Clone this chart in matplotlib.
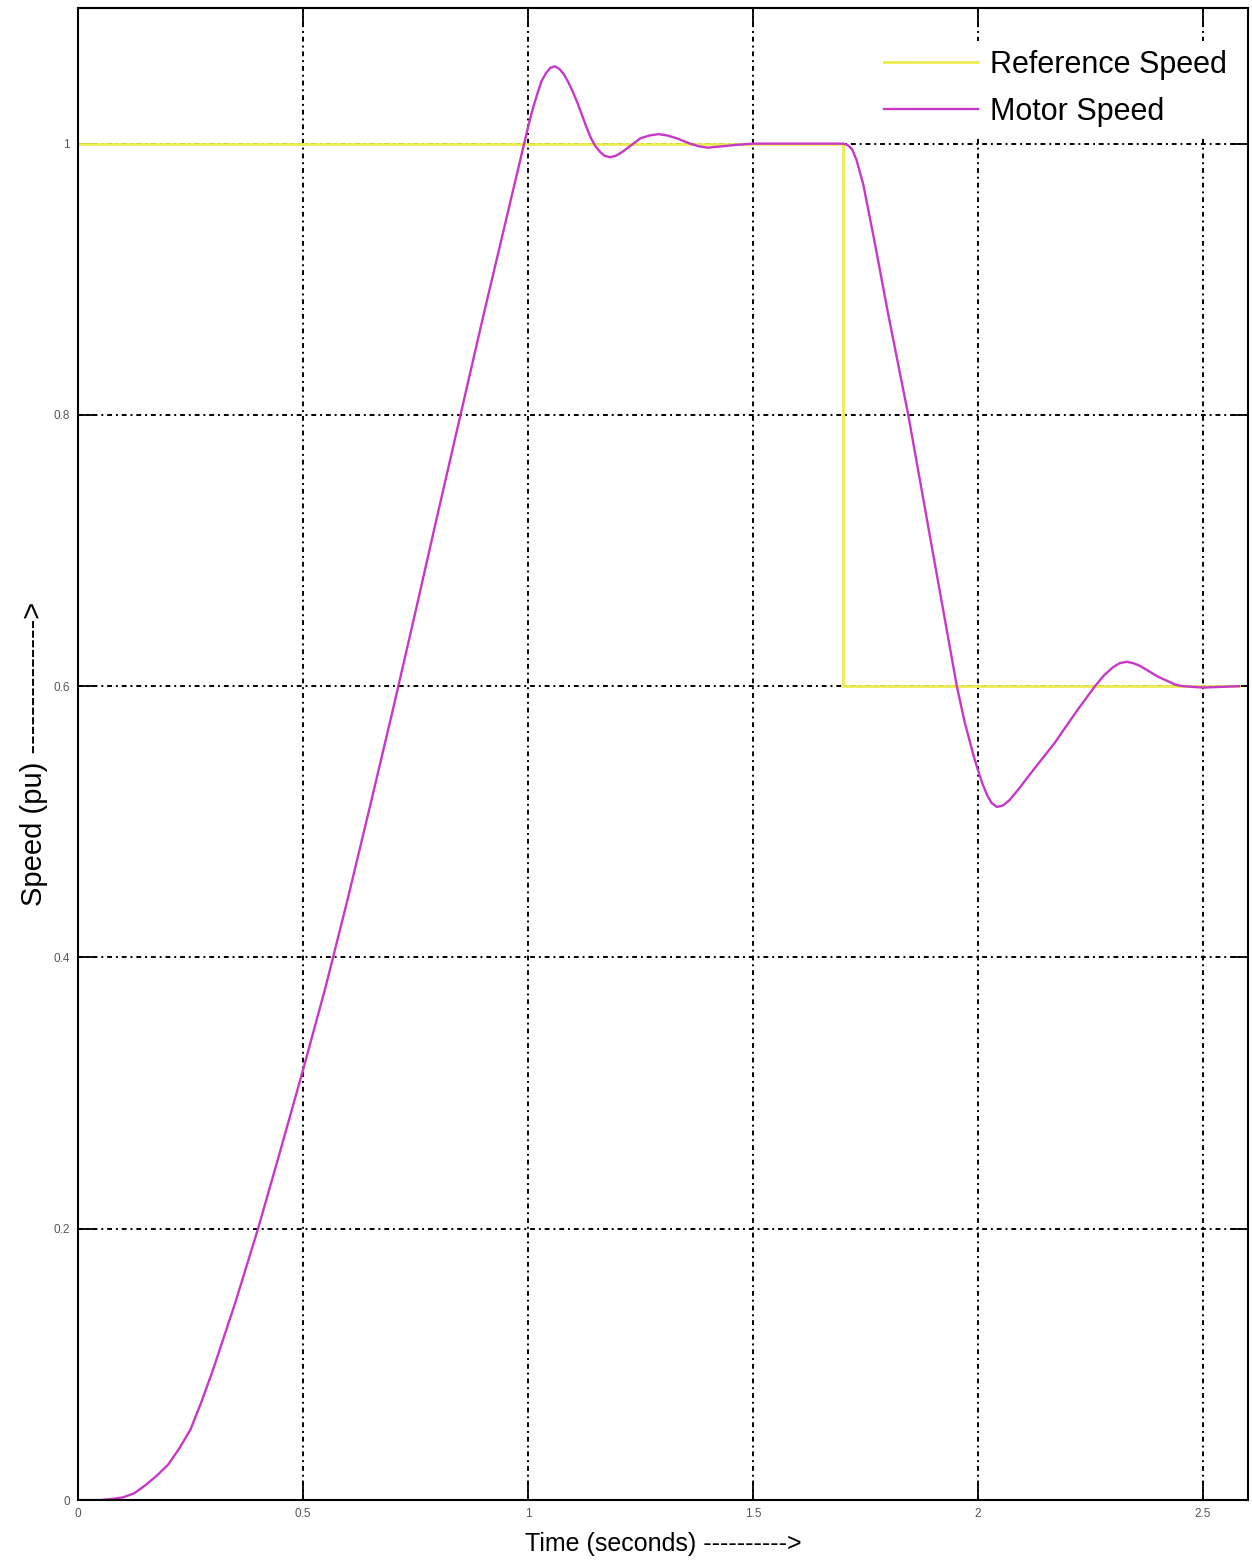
import matplotlib
matplotlib.use("Agg")
from matplotlib import pyplot as plt
from matplotlib.ticker import FuncFormatter

plt.rcParams["font.family"] = ["Liberation Sans", "DejaVu Sans"]

# reference speed (step at 1.7 s)
ref_time = [0.0, 1.7, 1.7, 2.58]
ref_speed = [1.0, 1.0, 0.6, 0.6]

# motor speed
motor_time = [
    0.00, 0.05, 0.08, 0.10, 0.125, 0.15, 0.175, 0.20, 0.225, 0.25,
    0.275, 0.30, 0.325, 0.35, 0.375, 0.40, 0.45, 0.50, 0.55, 0.60,
    0.65, 0.70, 0.75, 0.80, 0.85, 0.90, 0.94, 0.97, 0.99, 1.00,
    1.01, 1.02, 1.03, 1.04, 1.05, 1.06, 1.07, 1.08, 1.09, 1.10,
    1.11, 1.12, 1.13, 1.14, 1.15, 1.16, 1.17, 1.182, 1.195, 1.21,
    1.23, 1.25, 1.27, 1.29, 1.31, 1.33, 1.36, 1.38, 1.40, 1.43,
    1.46, 1.50, 1.70, 1.71, 1.72, 1.73, 1.745, 1.77, 1.80, 1.845,
    1.90, 1.953, 1.97, 1.99, 2.00, 2.01, 2.02, 2.03, 2.042, 2.055,
    2.07, 2.09, 2.12, 2.17, 2.22, 2.26, 2.28, 2.30, 2.315, 2.331,
    2.345, 2.36, 2.38, 2.40, 2.42, 2.44, 2.456, 2.50, 2.58,
]
motor_speed = [
    0.000, 0.000, 0.001, 0.002, 0.005, 0.011, 0.018, 0.026, 0.038, 0.052,
    0.073, 0.096, 0.121, 0.146, 0.173, 0.200, 0.258, 0.317, 0.378, 0.444,
    0.513, 0.583, 0.655, 0.728, 0.800, 0.872, 0.928, 0.970, 0.998, 1.012,
    1.025, 1.036, 1.046, 1.052, 1.056, 1.057, 1.055, 1.051, 1.045, 1.038,
    1.030, 1.021, 1.012, 1.004, 0.998, 0.994, 0.991, 0.990, 0.991, 0.994,
    0.999, 1.004, 1.006, 1.007, 1.006, 1.004, 1.000, 0.998, 0.997, 0.998,
    0.999, 1.000, 1.000, 0.999, 0.996, 0.988, 0.970, 0.928, 0.875, 0.800,
    0.698, 0.600, 0.574, 0.549, 0.538, 0.528, 0.520, 0.514, 0.511, 0.512,
    0.516, 0.524, 0.537, 0.558, 0.582, 0.600, 0.608, 0.614, 0.617, 0.618,
    0.617, 0.615, 0.611, 0.607, 0.604, 0.601, 0.600, 0.599, 0.600,
]

x_ticks = [0, 0.5, 1, 1.5, 2, 2.5]
y_ticks = [0, 0.2, 0.4, 0.6, 0.8, 1]

fig = plt.figure(figsize=(12.52, 15.66), dpi=100)
ax = fig.add_axes([0.0623, 0.0421, 0.9345, 0.9528])

ax.plot(ref_time, ref_speed, color="#ecec50", lw=2.0, label="Reference Speed")
ax.plot(motor_time, motor_speed, color="#c838c8", lw=1.7, label="Motor Speed")

ax.set_xlim(0, 2.6)
ax.set_ylim(0, 1.1)
ax.set_xticks(x_ticks)
ax.set_yticks(y_ticks)
ax.xaxis.set_major_formatter(FuncFormatter(lambda v, p: f"{v:g}"))
ax.yaxis.set_major_formatter(FuncFormatter(lambda v, p: f"{v:g}"))
ax.tick_params(direction="in", length=11, width=1.3, top=True, right=True,
               labelsize=8.5, labelcolor="#555555", pad=6)
ax.grid(True, color="black", linestyle=(0, (2.5, 2, 1, 2)), linewidth=1.4)
for s in ax.spines.values():
    s.set_linewidth(1.5)

ax.set_xlabel("Time (seconds) ---------->", fontsize=18, labelpad=8)
ax.set_ylabel("Speed (pu) -------------->", fontsize=21, labelpad=4)

leg = ax.legend(loc="upper right", frameon=True, fontsize=22, handlelength=3.1,
                handletextpad=0.4, labelspacing=0.55, borderaxespad=0.3,
                borderpad=0.3, bbox_to_anchor=(0.998, 0.984), fancybox=False,
                framealpha=1.0, facecolor="white", edgecolor="none")

fig.savefig("out.png", dpi=100)
